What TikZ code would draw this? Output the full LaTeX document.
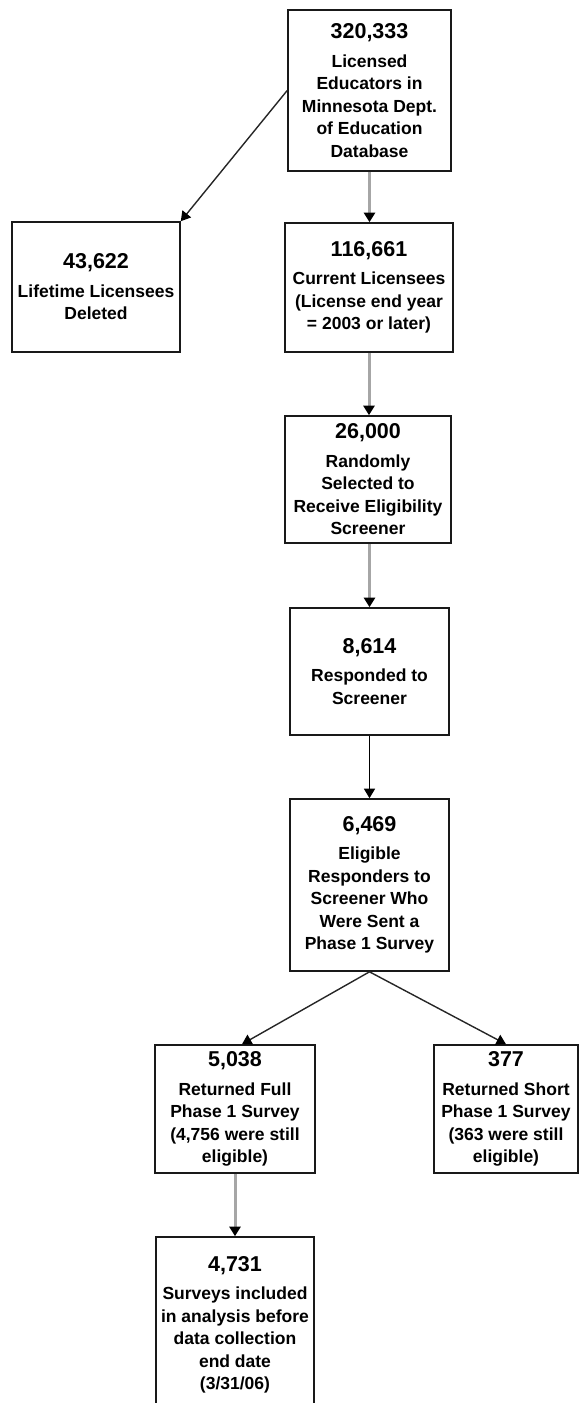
\documentclass[tikz,border=0pt]{standalone}
\usepackage{fontspec}
\setmainfont{Liberation Sans}
\usetikzlibrary{arrows.meta}
\newcommand{\numtxt}[1]{{\fontsize{21.5}{26}\selectfont #1}\\[6pt]}
\tikzset{
  box/.style={draw=black!90, line width=1.6pt, inner sep=0pt, align=center,
    font=\fontsize{17.5}{22.5}\selectfont\bfseries},
  tip/.style={-{Triangle[width=11pt,length=9.5pt,black]}},
  grayarrow/.style={tip, draw=black!35, line width=3pt},
  blackarrow/.style={tip, draw=black, line width=1.5pt},
  diagarrow/.style={tip, draw=black!85, line width=1.4pt},
}
\begin{document}
\begin{tikzpicture}[x=1pt,y=-1pt]
\useasboundingbox (0,0) rectangle (580,1403);
\node[box, minimum width=163pt, minimum height=161pt] (b1) at (369.5,90.5)
  {\numtxt{320,333}Licensed\\Educators in\\Minnesota Dept.\\of Education\\Database};
\node[box, minimum width=168pt, minimum height=130pt] (b2) at (96,287)
  {\numtxt{43,622}Lifetime Licensees\\Deleted};
\node[box, minimum width=168pt, minimum height=129pt] (b3) at (369,287.5)
  {\numtxt{116,661}Current Licensees\\(License end year\\= 2003 or later)};
\node[box, minimum width=166pt, minimum height=127pt] (b4) at (368,479.5)
  {\numtxt{26,000}Randomly\\Selected to\\Receive Eligibility\\Screener};
\node[box, minimum width=159pt, minimum height=127pt] (b5) at (369.5,671.5)
  {\numtxt{8,614}Responded to\\Screener};
\node[box, minimum width=159pt, minimum height=172pt] (b6) at (369.5,885)
  {\numtxt{6,469}Eligible\\Responders to\\Screener Who\\Were Sent a\\Phase 1 Survey};
\node[box, minimum width=160pt, minimum height=128pt] (b7) at (235,1109)
  {\numtxt{5,038}Returned Full\\Phase 1 Survey\\(4,756 were still\\eligible)};
\node[box, minimum width=144pt, minimum height=128pt] (b8) at (506,1109)
  {\numtxt{377}Returned Short\\Phase 1 Survey\\(363 were still\\eligible)};
\node[box, minimum width=158pt, minimum height=176pt] (b9) at (235,1325)
  {\numtxt{4,731}Surveys included\\in analysis before\\data collection\\end date\\(3/31/06)};

\draw[grayarrow] (b1.south) -- (b3.north -| b1.south);
\draw[grayarrow] (b3.south) -- (b4.north -| b3.south);
\draw[grayarrow] (b4.south -| b5.north) -- (b5.north);
\draw[blackarrow] (b5.south) -- (b6.north);
\draw[grayarrow] (b7.south) -- (b9.north);
\draw[diagarrow] (b1.west) -- (b2.north east);
\draw[diagarrow] (b6.south) -- ([xshift=7pt]b7.north);
\draw[diagarrow] (b6.south) -- (b8.north);
\end{tikzpicture}
\end{document}
